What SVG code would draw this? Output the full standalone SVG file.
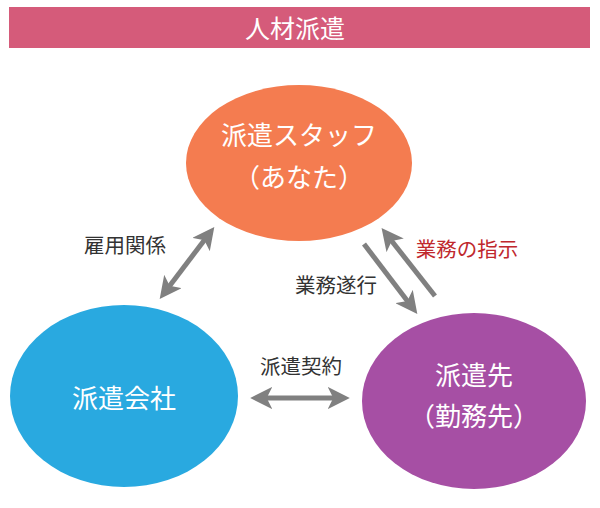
<svg xmlns="http://www.w3.org/2000/svg" width="600" height="508" viewBox="0 0 600 508">
<style>
text{font-family:"Noto Sans CJK JP","Noto Sans CJK SC",sans-serif;text-anchor:middle;dominant-baseline:central}
.w{fill:#fff;font-size:26px}
.l{fill:#333;font-size:20.5px}
.arr{stroke:#808080;stroke-width:5;fill:none}
</style>
<defs>
<marker id="ah" viewBox="0 0 10 10" refX="6" refY="5" markerWidth="4.4" markerHeight="4.4" orient="auto-start-reverse" markerUnits="strokeWidth">
<path d="M0,0 L10,5 L0,10 L2.5,5 Z" fill="#808080"/>
</marker>
</defs>
<g id="banner">
<rect x="9" y="7" width="581" height="41" fill="#d55b7a"/>
<text x="295" y="27" class="w" style="font-size:25px">人材派遣</text>
</g>
<g id="staff">
<ellipse cx="299" cy="163" rx="113" ry="78" fill="#f47c50"/>
<text x="299" y="133" class="w">派遣スタッフ</text>
<text x="299" y="175" class="w">（あなた）</text>
</g>
<g id="agency">
<ellipse cx="124" cy="396" rx="114" ry="91" fill="#29a9e0"/>
<text x="124" y="396" class="w">派遣会社</text>
</g>
<g id="client">
<ellipse cx="474" cy="401" rx="112" ry="88" fill="#a64fa4"/>
<text x="474" y="373" class="w">派遣先</text>
<text x="474" y="414" class="w">（勤務先）</text>
</g>
<g id="connectors">
<line class="arr" x1="209" y1="234" x2="165" y2="292" marker-start="url(#ah)" marker-end="url(#ah)"/>
<line class="arr" x1="364" y1="244" x2="412" y2="307" marker-end="url(#ah)"/>
<line class="arr" x1="435" y1="296" x2="387" y2="235" marker-end="url(#ah)"/>
<line class="arr" x1="259" y1="398" x2="341" y2="398" marker-start="url(#ah)" marker-end="url(#ah)"/>
<text x="125" y="244" class="l">雇用関係</text>
<text x="336" y="284" class="l">業務遂行</text>
<text x="467" y="248" class="l" style="fill:#c0282d">業務の指示</text>
<text x="301" y="365" class="l">派遣契約</text>
</g>
</svg>
